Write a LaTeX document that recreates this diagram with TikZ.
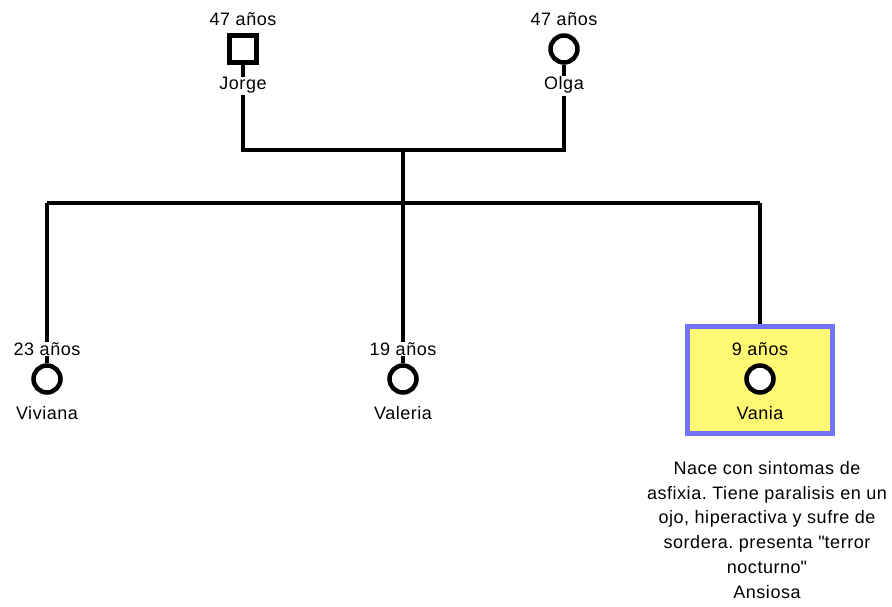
\documentclass[tikz,border=0pt]{standalone}
\usepackage{fontspec}
\setmainfont{Liberation Sans}[LetterSpace=3]
\usetikzlibrary{calc}
\begin{document}
\frenchspacing
\begin{tikzpicture}[x=1pt,y=-1pt,
  lbl/.style={font=\fontsize{18}{22}\selectfont, inner sep=0pt},
  male/.style={draw, line width=4.5pt, minimum size=27pt, inner sep=0pt, rectangle, fill=white},
  female/.style={draw, line width=4.5pt, minimum size=27pt, inner sep=0pt, circle, fill=white},
  conn/.style={line width=4.5pt},
  tick/.style={line width=4.5pt}]
\useasboundingbox (0,0) rectangle (892,606);
% highlight box
\node[draw=blue!55, fill=yellow!55, line width=4.5pt, minimum width=145pt, minimum height=107pt, inner sep=0pt] (box) at (760,380) {};
% parents
\node[male] (jorge) at (243,49) {};
\node[lbl] (jorgeage) at (243,19) {47 años};
\node[lbl] (jorgename) at (243,85) {Jorge};
\node[female] (olga) at (564,49) {};
\node[lbl] (olgaage) at (564,19) {47 años};
\node[lbl] (olganame) at (564,85) {Olga};
\draw[tick] (jorge.south) -- (jorgename.north);
\draw[tick] (olga.south) -- (olganame.north);
\coordinate (jl) at (243,150);
\coordinate (ol) at (564,150);
\coordinate (mid) at (403,150);
\coordinate (sib) at (403,203);
\coordinate (sl) at (47,203);
\coordinate (sr) at (760,203);
\draw[conn] ($(jorgename.south)+(0,2)$) -- (jl) -- (ol) -- ($(olganame.south)+(0,2)$);
% children
\node[female] (viviana) at (47,379) {};
\node[lbl] (vivage) at (47,349) {23 años};
\node[lbl] (vivname) at (47,413) {Viviana};
\node[female] (valeria) at (403,379) {};
\node[lbl] (valage) at (403,349) {19 años};
\node[lbl] (valname) at (403,413) {Valeria};
\node[female] (vania) at (760,379) {};
\node[lbl] (vanage) at (760,349) {9 años};
\node[lbl] (vanname) at (760,413) {Vania};
\draw[conn] (mid) -- (sib);
\draw[conn] (sl) -- (sr);
\draw[conn] (sl) -- (vivage.north);
\draw[conn] (sib) -- (valage.north);
\draw[conn] (sr) -- (box.north);
\draw[tick] (vivage.south) -- (viviana.north);
\draw[tick] (valage.south) -- (valeria.north);
\node[lbl, align=center, font=\fontsize{18}{24.8}\selectfont, anchor=north] (note) at (767,461) {Nace con sintomas de\\asfixia. Tiene paralisis en un\\ojo, hiperactiva y sufre de\\sordera. presenta \textquotedbl terror\\nocturno\textquotedbl\\Ansiosa};
\end{tikzpicture}
\end{document}
